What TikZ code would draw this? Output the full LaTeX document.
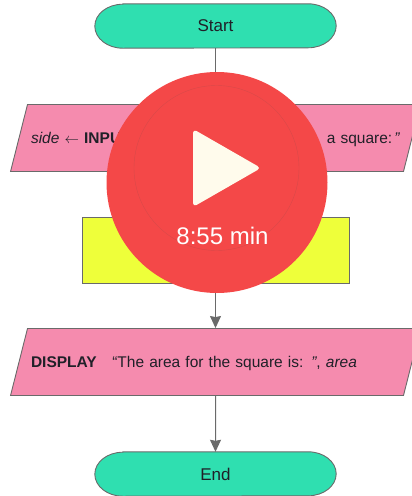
\documentclass[tikz,border=0pt]{standalone}
\usepackage{fontspec}
\setmainfont{Liberation Sans}
\usetikzlibrary{arrows.meta,shapes.geometric,backgrounds}
\definecolor{termfill}{HTML}{2FDFB0}
\definecolor{iofill}{HTML}{F58BAE}
\definecolor{calcfill}{HTML}{EEFF3A}
\definecolor{edgegray}{HTML}{6A6A6A}
\definecolor{inktext}{HTML}{202028}
\definecolor{playred}{HTML}{F44848}
\definecolor{playring}{HTML}{D94848}
\definecolor{playtri}{HTML}{FFFBEC}

\begin{document}
\begin{tikzpicture}[->,>={Stealth[length=12pt,width=11pt,inset=1pt]},node distance=112pt,
		base node/.style={draw=edgegray,line width=0.9pt,text=inktext,font=\fontsize{15.5}{18}\selectfont},
		term node/.style={text=inktext,font=\fontsize{17}{20}\selectfont,rectangle,minimum width=241pt,minimum height=44pt},
		term shape/.style={-,draw=edgegray,fill=termfill,line width=0.9pt},
		io node/.style={base node,fill=iofill,trapezium,trapezium left angle=75.8,trapezium right angle=104.2,
			text width=369pt,text height=13.5pt,text depth=3.5pt,align=left,inner xsep=3.5pt,inner ysep=25pt},
		calc node/.style={base node,fill=calcfill,rectangle,minimum width=267pt,minimum height=66pt},
		every edge/.append style={draw=edgegray,line width=1pt}]
		\useasboundingbox (0,0) rectangle (412pt,-496pt);
		% flow
		\node[term node] (start) at (215.5pt,-26pt) {Start};
		\node[io node] (input) [below of= start]{\textit{side} $\leftarrow$ \textbf{INPUT}\hfill a square:\hspace{2pt}\textit{”}};
		\node[calc node] (calc) [below of= input]{};
		\node[io node] (display) [below of= calc]{\textbf{DISPLAY}\quad “The area for the square is: \textit{”}, \textit{area}};
		\node[term node] (end) [below of= display]{End};
		
		% terminator outlines
		\begin{scope}[on background layer]
		\foreach \n in {start,end}
		\draw[term shape] ([xshift=28pt]\n.north west) -- ([xshift=-28pt]\n.north east)
			arc[start angle=90,end angle=-90,x radius=28pt,y radius=22pt]
			-- ([xshift=28pt]\n.south west)
			arc[start angle=270,end angle=90,x radius=28pt,y radius=22pt] -- cycle;
		\end{scope}
		
		\path
		(start) edge (input)
		(input) edge (calc)
		(calc) edge (display)
		(display) edge (end);
		
		% play badge
		\node[circle,fill=playred,minimum size=221pt,inner sep=0pt] (badge) at (217pt,-182.5pt) {};
		\node[circle,draw=playring,line width=0.4pt,minimum size=165pt,inner sep=0pt] (ring) at (216.5pt,-168pt) {};
		\fill[playtri,rounded corners=4pt] (193pt,-129pt) -- (261pt,-168pt) -- (193pt,-207pt) -- cycle;
		\node[text=white,font=\fontsize{24}{27}\selectfont] (duration) at (222.5pt,-236pt) {8:55 min};
\end{tikzpicture}
\end{document}
